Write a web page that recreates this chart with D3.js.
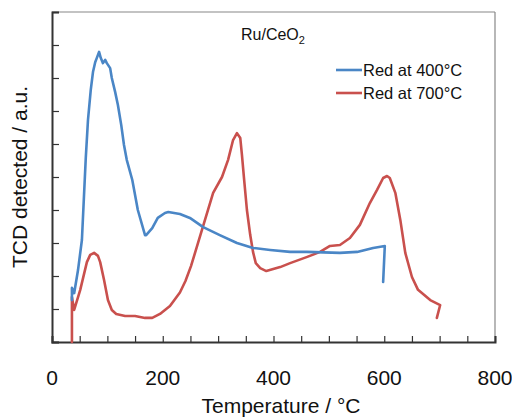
<!DOCTYPE html>
<html>
<head>
<meta charset="utf-8">
<script src="https://cdn.jsdelivr.net/npm/d3@7"></script>
<style>
  html, body { margin: 0; padding: 0; background: #fff; }
  svg { display: block; font-family: "Liberation Sans", Arial, sans-serif; }
</style>
</head>
<body>
<svg id="chart" width="512" height="419"></svg>
<script>
// TPR profiles of Ru/CeO2: temperature (°C) vs TCD signal (a.u.)
const red400T = [36, 36, 40, 47, 54, 61, 65, 70, 74, 78, 81, 85, 88, 92, 96, 99, 105, 108, 114, 119, 125, 130, 135, 145, 155, 168, 170, 181, 191, 204, 210, 231, 249, 273, 303, 334, 363, 394, 430, 460, 520, 551, 580, 601, 598];
const red400Y = [1.27, 1.64, 1.48, 2.18, 3.09, 5.58, 6.73, 7.64, 8.18, 8.48, 8.61, 8.79, 8.61, 8.45, 8.55, 8.45, 8.30, 8.0, 7.58, 7.18, 6.58, 5.97, 5.52, 4.91, 4.0, 3.24, 3.24, 3.45, 3.76, 3.91, 3.94, 3.88, 3.76, 3.48, 3.24, 3.0, 2.85, 2.79, 2.73, 2.73, 2.70, 2.73, 2.85, 2.91, 1.82];

const red700T = [36, 36, 40, 51, 63, 69, 76, 83, 87, 94, 101, 108, 116, 132, 150, 168, 181, 195, 213, 231, 241, 251, 261, 273, 291, 307, 318, 327, 334, 340, 343, 347, 352, 358, 363, 368, 376, 387, 412, 430, 461, 484, 502, 520, 538, 556, 574, 587, 598, 605, 610, 620, 629, 638, 650, 661, 683, 701, 695];
const red700Y = [0, 1.36, 0.97, 1.58, 2.42, 2.64, 2.70, 2.61, 2.42, 1.88, 1.27, 0.97, 0.85, 0.79, 0.79, 0.73, 0.73, 0.85, 1.09, 1.50, 1.85, 2.30, 2.85, 3.52, 4.52, 5.0, 5.52, 6.12, 6.33, 6.18, 5.67, 4.91, 4.0, 3.24, 2.73, 2.39, 2.24, 2.15, 2.27, 2.39, 2.58, 2.73, 2.91, 2.94, 3.15, 3.55, 4.21, 4.61, 4.97, 5.03, 4.97, 4.52, 3.70, 2.70, 1.97, 1.58, 1.27, 1.12, 0.73];

const seriesNames = ["Red at 400°C", "Red at 700°C"];
const seriesColors = ["#4A86C6", "#C9504D"];
const xTickLabels = [0, 200, 400, 600, 800];

const svg = d3.select("#chart");
const margin = { left: 52, right: 17, top: 12, bottom: 77 };
const W = 512, H = 419;

const x = d3.scaleLinear().domain([0, 800]).range([margin.left, W - margin.right]);
const y = d3.scaleLinear().domain([0, 10]).range([H - margin.bottom, margin.top]);

// frame: thin grey top/right, dark left/bottom
svg.append("line").attr("x1", x(0)).attr("x2", x(800)).attr("y1", y(10)).attr("y2", y(10))
  .attr("stroke", "#888").attr("stroke-width", 1.2);
svg.append("line").attr("x1", x(800)).attr("x2", x(800)).attr("y1", y(10)).attr("y2", y(0))
  .attr("stroke", "#888").attr("stroke-width", 1.2);

// x axis with inward ticks every 50
const xAxis = d3.axisBottom(x).tickValues(d3.range(0, 801, 50)).tickSize(-6).tickFormat("");
const gx = svg.append("g").attr("transform", `translate(0,${y(0)})`).call(xAxis);
gx.select(".domain").attr("stroke", "#333").attr("stroke-width", 2);
gx.selectAll(".tick line").attr("stroke", "#333").attr("stroke-width", 1.2);

svg.append("g").selectAll("text").data(xTickLabels).join("text")
  .attr("x", d => x(d)).attr("y", 385)
  .attr("text-anchor", "middle").attr("font-size", 21).attr("fill", "#111")
  .text(d => d);

// y axis with inward ticks, no labels
const yAxis = d3.axisLeft(y).tickValues(d3.range(0, 11, 1)).tickSize(-7).tickFormat("");
const gy = svg.append("g").attr("transform", `translate(${x(0)},0)`).call(yAxis);
gy.select(".domain").attr("stroke", "#333").attr("stroke-width", 2);
gy.selectAll(".tick line").attr("stroke", "#333").attr("stroke-width", 1.2);

// axis titles
svg.append("text").attr("x", 281).attr("y", 413).attr("text-anchor", "middle")
  .attr("font-size", 21).attr("fill", "#111").text("Temperature / °C");
svg.append("text").attr("transform", `translate(27,${(y(0) + y(10)) / 2}) rotate(-90)`)
  .attr("text-anchor", "middle").attr("font-size", 21).attr("fill", "#111")
  .text("TCD detected / a.u.");

// curves
const line = d3.line().x(d => x(d[0])).y(d => y(d[1]));
const series = [
  d3.zip(red400T, red400Y),
  d3.zip(red700T, red700Y)
];
// draw 700 °C run first so the 400 °C trace sits on top at the start
[1, 0].forEach(i => {
  svg.append("path").datum(series[i]).attr("d", line)
    .attr("fill", "none").attr("stroke", seriesColors[i])
    .attr("stroke-width", 2.6).attr("stroke-linejoin", "round").attr("stroke-linecap", "round");
});

// sample label
const title = svg.append("text").attr("x", 241).attr("y", 40).attr("font-size", 16).attr("fill", "#111");
title.append("tspan").text("Ru/CeO");
title.append("tspan").attr("font-size", 11).attr("dy", 4).text("2");

// legend
const legend = svg.append("g");
seriesNames.forEach((name, i) => {
  const ly = 70 + i * 23;
  legend.append("line").attr("x1", 336).attr("x2", 362).attr("y1", ly).attr("y2", ly)
    .attr("stroke", seriesColors[i]).attr("stroke-width", 2.6);
  legend.append("text").attr("x", 363).attr("y", ly + 6).attr("font-size", 16.5)
    .attr("fill", "#111").text(name);
});
</script>
</body>
</html>
